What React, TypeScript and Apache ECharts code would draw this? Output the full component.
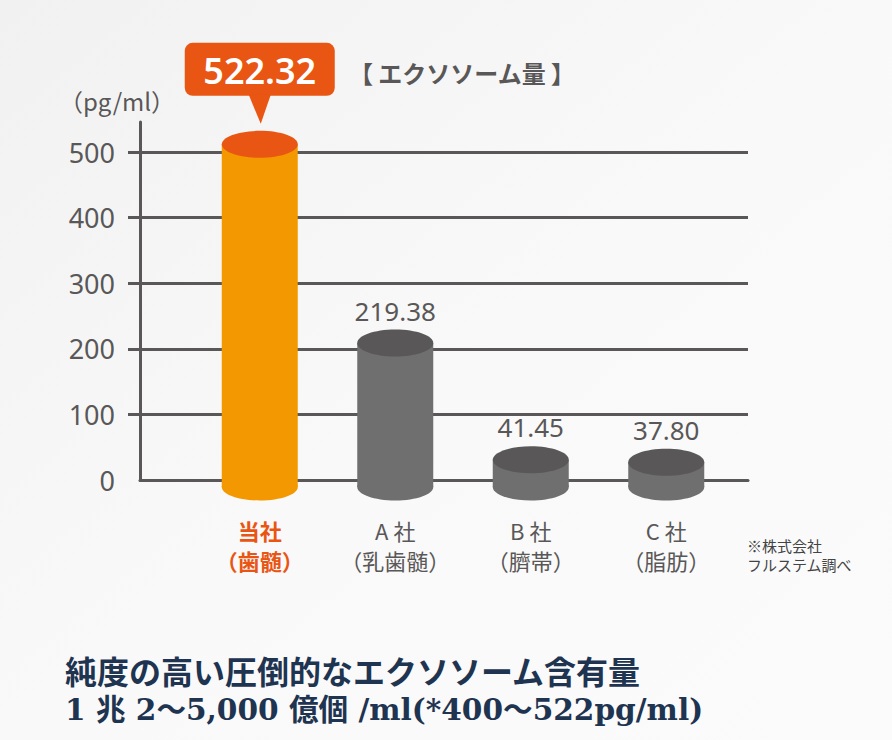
import React, { useEffect, useRef } from "react";
import * as echarts from "echarts";

const categoriesTop = ["当社", "A 社", "B 社", "C 社"];
const categoriesSub = ["（歯髄）", "（乳歯髄）", "（臍帯）", "（脂肪）"];
const values = [522.32, 219.38, 41.45, 37.8];
const yMax = 500;
const yInterval = 100;
const unitLabel = "（pg/ml）";
const chartTitle = "【 エクソソーム量 】";
const sourceNote1 = "※株式会社";
const sourceNote2 = "フルステム調べ";
const footLine1 = "純度の高い圧倒的なエクソソーム含有量";
const footLine2 = "1 兆 2〜5,000 億個 /ml(*400〜522pg/ml)";

const SANS = '"Noto Sans", "Noto Sans CJK JP", sans-serif';
const CJK = '"Noto Sans CJK JP", "Noto Sans", sans-serif';
const SERIF = '"DejaVu Serif", "Noto Sans CJK JP", serif';
const GRAY = "#595757";
const ORANGE = "#e95513";

export default function App() {
  const ref = useRef<HTMLDivElement>(null);
  useEffect(() => {
    if (!ref.current) return;
    const chart = echarts.init(ref.current, null, { renderer: "svg" });
    const plotTop = 152;
    const plotH = 328;
    const axisTop = 122;
    const axisMax = (yMax * (plotTop + plotH - axisTop)) / plotH;

    const txt = (x: number, y: number, text: string, extra: any, align = "left") => ({
      type: "text",
      x,
      y,
      style: {
        text,
        align,
        verticalAlign: "middle",
        textAlign: align,
        textVerticalAlign: "middle",
        ...extra,
      },
    });

    const option: any = {
      animation: false,
      backgroundColor: new echarts.graphic.LinearGradient(0, 0, 1, 1, [
        { offset: 0, color: "#f1f1f1" },
        { offset: 0.5, color: "#f9f9f9" },
        { offset: 1, color: "#fbfbfb" },
      ]),
      grid: [
        { left: 128, top: plotTop, width: 620, height: plotH },
        { left: 140, top: axisTop, width: 608, height: plotH + plotTop - axisTop },
        { left: 192, top: plotTop, width: 542, height: plotH },
      ],
      xAxis: [
        { gridIndex: 0, type: "value", show: false },
        {
          gridIndex: 1,
          type: "value",
          axisLine: { show: true, lineStyle: { color: GRAY, width: 3 } },
          axisTick: { show: false },
          axisLabel: { show: false },
          splitLine: { show: false },
        },
        {
          gridIndex: 2,
          type: "category",
          data: categoriesTop.map((c, i) => c + "\n" + categoriesSub[i]),
          axisLine: { show: false },
          axisTick: { show: false },
          axisLabel: {
            margin: 35,
            interval: 0,
            formatter: (_v: string, i: number) => {
              const k = i === 0 ? "hi" : "n";
              return `{${k}|${categoriesTop[i]}}\n{${k}|${categoriesSub[i]}}`;
            },
            rich: {
              hi: { fontFamily: CJK, fontSize: 22, fontWeight: "bold", color: ORANGE, lineHeight: 30 },
              n: { fontFamily: CJK, fontSize: 22, color: GRAY, lineHeight: 30 },
            },
          },
        },
      ],
      yAxis: [
        {
          gridIndex: 0,
          type: "value",
          min: 0,
          max: yMax,
          interval: yInterval,
          axisLine: { show: false },
          axisTick: { show: false },
          axisLabel: { margin: 13, fontFamily: SANS, fontSize: 27, color: GRAY },
          splitLine: { show: true, showMinLine: false, lineStyle: { color: GRAY, width: 3 } },
        },
        {
          gridIndex: 1,
          type: "value",
          min: 0,
          max: axisMax,
          axisLine: { show: true, lineStyle: { color: GRAY, width: 3 } },
          axisTick: { show: false },
          axisLabel: { show: false },
          splitLine: { show: false },
        },
        { gridIndex: 2, type: "value", min: 0, max: yMax, show: false, splitLine: { show: false } },
      ],
      series: [
        {
          type: "custom",
          xAxisIndex: 2,
          yAxisIndex: 2,
          clip: false,
          encode: { x: 0, y: 1 },
          data: values.map((v, i) => [i, v]),
          renderItem: (params: any, api: any) => {
            const idx = params.dataIndex;
            const v = api.value(1);
            const top = api.coord([idx, v]);
            const base = api.coord([idx, 0]);
            const off = 7;
            const cx = top[0];
            const ty = top[1] + off;
            const by = base[1] + off;
            const rx = 38;
            const ry = 13.5;
            const hi = idx === 0;
            const body = hi ? "#f39800" : "#6f6f6f";
            const cap = hi ? ORANGE : "#595757";
            const children: any[] = [
              { type: "ellipse", shape: { cx, cy: by, rx, ry }, style: { fill: body } },
              { type: "rect", shape: { x: cx - rx, y: ty, width: rx * 2, height: by - ty }, style: { fill: body } },
              { type: "ellipse", shape: { cx, cy: ty, rx, ry }, style: { fill: cap } },
            ];
            const topEdge = ty - ry;
            const label = values[idx].toFixed(2);
            if (hi) {
              const tip = topEdge - 7;
              const rb = tip - 28;
              const rt = rb - 53;
              children.push(
                { type: "rect", shape: { x: cx - 75, y: rt, width: 150, height: rb - rt, r: 8 }, style: { fill: ORANGE } },
                { type: "polygon", shape: { points: [[cx - 11, rb - 1], [cx + 11, rb - 1], [cx + 1, tip]] }, style: { fill: ORANGE } },
                {
                  type: "text",
                  x: cx,
                  y: (rt + rb) / 2 + 1,
                  style: {
                    text: label,
                    fill: "#ffffff",
                    fontFamily: SANS,
                    fontSize: 36,
                    fontWeight: 600,
                    align: "center",
                    verticalAlign: "middle",
                    textAlign: "center",
                    textVerticalAlign: "middle",
                  },
                }
              );
            } else {
              children.push({
                type: "text",
                x: cx,
                y: topEdge - 6,
                style: {
                  text: label,
                  fill: GRAY,
                  fontFamily: SANS,
                  fontSize: 26,
                  align: "center",
                  verticalAlign: "bottom",
                  textAlign: "center",
                  textVerticalAlign: "bottom",
                },
              });
            }
            return { type: "group", children };
          },
        },
      ],
      graphic: [
        txt(117, 100, unitLabel, { fill: GRAY, fontFamily: CJK, fontSize: 24 }, "center"),
        txt(462, 72, chartTitle, { fill: GRAY, fontFamily: CJK, fontSize: 24, fontWeight: "bold" }, "center"),
        txt(747, 545, sourceNote1, { fill: "#444444", fontFamily: CJK, fontSize: 15 }),
        txt(747, 564, sourceNote2, { fill: "#444444", fontFamily: CJK, fontSize: 15 }),
        txt(65, 670, footLine1, { fill: "#1e3450", fontFamily: CJK, fontSize: 32, fontWeight: "bold" }),
        txt(65, 709, footLine2, { fill: "#1e3450", fontFamily: SERIF, fontSize: 29.6, fontWeight: "bold" }),
      ],
    };
    chart.setOption(option);
    return () => chart.dispose();
  }, []);
  return <div ref={ref} style={{ position: "fixed", left: 0, top: 0, width: 892, height: 740 }} />;
}
